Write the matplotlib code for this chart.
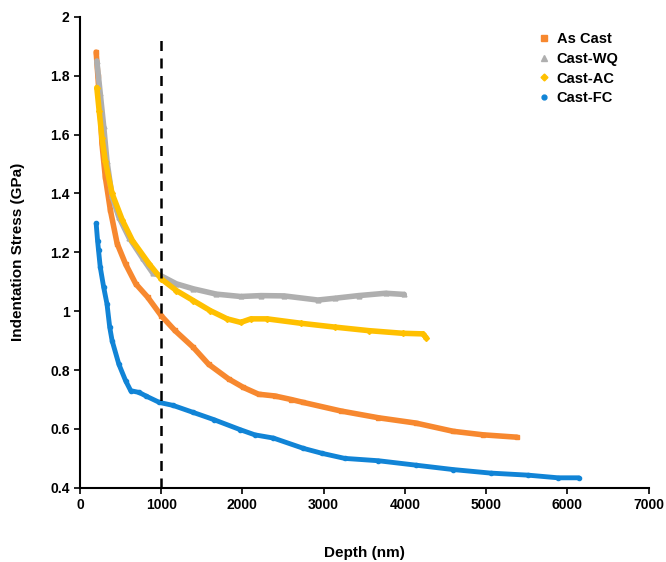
import matplotlib
matplotlib.use("Agg")
import matplotlib.pyplot as plt
from matplotlib.ticker import FuncFormatter

plt.rcParams['font.family'] = ['Liberation Sans', 'DejaVu Sans']

# depth (nm) / stress (GPa)
as_cast_x = [200, 221, 250, 271, 312, 375, 458, 562, 687, 833, 1000, 1167, 1396,
             1583, 1829, 2012, 2198, 2400, 2600, 2751, 3212, 3673, 4134, 4594,
             4963, 5378]
as_cast_y = [1.88, 1.80, 1.68, 1.57, 1.457, 1.343, 1.23, 1.16, 1.093, 1.048, 0.985,
             0.935, 0.877, 0.82, 0.77, 0.741, 0.718, 0.712, 0.70, 0.69, 0.661,
             0.638, 0.62, 0.592, 0.58, 0.572]

wq_x = [208, 250, 292, 333, 396, 479, 604, 771, 896, 1000, 1188, 1396, 1679,
        1979, 2229, 2512, 2929, 3137, 3429, 3762, 3992]
wq_y = [1.85, 1.74, 1.63, 1.51, 1.39, 1.32, 1.25, 1.18, 1.13, 1.12, 1.093, 1.076,
        1.058, 1.05, 1.053, 1.052, 1.038, 1.044, 1.053, 1.061, 1.057]

ac_x = [208, 237, 271, 312, 396, 521, 646, 854, 1000, 1188, 1396, 1604, 1812,
        1979, 2104, 2304, 2721, 3137, 3554, 3971, 4221, 4262]
ac_y = [1.76, 1.68, 1.59, 1.51, 1.40, 1.31, 1.24, 1.16, 1.11, 1.07, 1.036, 1.002,
        0.974, 0.962, 0.974, 0.974, 0.959, 0.946, 0.934, 0.925, 0.923, 0.91]

fc_x = [200, 217, 229, 250, 292, 333, 367, 396, 479, 562, 625, 729, 812, 979,
        1146, 1396, 1645, 1968, 2152, 2382, 2751, 2982, 3258, 3673, 4134, 4594,
        5055, 5516, 5885, 6138]
fc_y = [1.298, 1.24, 1.207, 1.15, 1.082, 1.025, 0.945, 0.9, 0.82, 0.764, 0.73,
        0.724, 0.712, 0.69, 0.68, 0.656, 0.632, 0.598, 0.58, 0.569, 0.534, 0.517,
        0.5, 0.492, 0.477, 0.462, 0.45, 0.443, 0.434, 0.434]

fig = plt.figure(figsize=(6.66, 5.62), dpi=100)
ax = fig.add_axes([0.120, 0.132, 0.854, 0.838])

ax.plot(as_cast_x, as_cast_y, color='#F7882F', lw=4, marker='s', ms=3.5,
        solid_capstyle='round')
ax.plot(wq_x, wq_y, color='#AFAFAF', lw=4, marker='^', ms=3.5, solid_capstyle='round')
ax.plot(ac_x, ac_y, color='#FFC000', lw=4, marker='D', ms=3, solid_capstyle='round')
ax.plot(fc_x, fc_y, color='#1184D6', lw=3.5, marker='o', ms=3, solid_capstyle='round')

ax.plot([1000, 1000], [0.4, 1.92], color='black', lw=1.8, ls=(0, (4, 3)))

# legend (markers only)
ax.plot([], [], 's', color='#F7882F', ms=4, label='As Cast')
ax.plot([], [], '^', color='#AFAFAF', ms=4, label='Cast-WQ')
ax.plot([], [], 'D', color='#FFC000', ms=3.5, label='Cast-AC')
ax.plot([], [], 'o', color='#1184D6', ms=3.5, label='Cast-FC')
h, l = ax.get_legend_handles_labels()
ax.legend(h[-4:], l[-4:], loc='upper left', bbox_to_anchor=(0.782, 0.996),
          frameon=False, handlelength=0.8, handletextpad=0.5,
          labelspacing=0.4, prop={'weight': 'bold', 'size': 10.5})

ax.set_xlim(0, 7000)
ax.set_ylim(0.4, 2)
ax.set_xticks(range(0, 7001, 1000))
ax.set_yticks([0.4, 0.6, 0.8, 1.0, 1.2, 1.4, 1.6, 1.8, 2.0])
ax.yaxis.set_major_formatter(FuncFormatter(lambda v, p: f"{v:g}"))
ax.tick_params(labelsize=10, direction='out', length=4, width=1.2)
for t in ax.get_xticklabels() + ax.get_yticklabels():
    t.set_fontweight('bold')
for s in ['top', 'right']:
    ax.spines[s].set_visible(False)
for s in ['left', 'bottom']:
    ax.spines[s].set_linewidth(1.5)

ax.set_xlabel("Depth (nm)", fontsize=11, fontweight='bold', labelpad=24)
ax.set_ylabel("Indentation Stress (GPa)", fontsize=11, fontweight='bold', labelpad=18)

fig.savefig("out.png", dpi=100)
